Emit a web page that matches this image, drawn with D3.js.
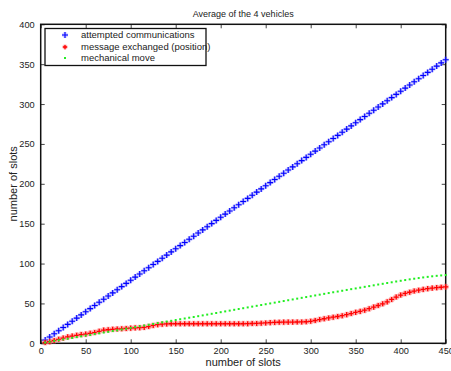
<!DOCTYPE html>
<html>
<head>
<meta charset="utf-8">
<script src="https://cdn.jsdelivr.net/npm/d3@7"></script>
<style>
  html, body { margin: 0; padding: 0; background: #fff; }
  svg { display: block; font-family: "Liberation Sans", Arial, Helvetica, sans-serif; }
</style>
</head>
<body>
<svg id="chart" width="451" height="371"></svg>
<script>
// Slot index of each sample (one every 5 slots)
const slots = d3.range(5, 451, 5);

// Attempted communications (average of the 4 vehicles)
const attempted = [
  4.0, 7.9, 11.9, 15.8, 19.8, 23.7, 27.7, 31.6, 35.6, 39.5,
  43.5, 47.4, 51.4, 55.3, 59.3, 63.2, 67.2, 71.1, 75.1, 79.0,
  83.0, 86.9, 90.9, 94.8, 98.8, 102.7, 106.7, 110.6, 114.6, 118.5,
  122.5, 126.4, 130.4, 134.3, 138.3, 142.2, 146.2, 150.1, 154.1, 158.0,
  162.0, 165.9, 169.9, 173.8, 177.8, 181.7, 185.7, 189.6, 193.6, 197.5,
  201.5, 205.4, 209.4, 213.3, 217.3, 221.2, 225.2, 229.1, 233.1, 237.0,
  241.0, 244.9, 248.9, 252.8, 256.8, 260.7, 264.7, 268.6, 272.6, 276.5,
  280.5, 284.4, 288.4, 292.3, 296.3, 300.2, 304.2, 308.1, 312.1, 316.0,
  320.0, 323.9, 327.9, 331.8, 335.8, 339.7, 343.7, 347.6, 351.6, 355.5
];

// Messages exchanged (position)
const exchanged = [
  1.0, 2.0, 3.5, 5.0, 6.5, 8.0, 9.0, 10.0, 11.0, 11.5,
  12.5, 13.5, 15.0, 16.5, 17.0, 17.5, 18.0, 18.2, 18.6, 19.0,
  19.4, 19.6, 20.0, 21.0, 22.4, 23.4, 24.0, 24.3, 24.5, 24.5,
  24.5, 24.5, 24.5, 24.5, 24.5, 24.5, 24.5, 24.5, 24.5, 24.5,
  24.5, 24.5, 24.5, 24.5, 24.5, 24.6, 24.8, 24.9, 25.2, 25.5,
  25.9, 26.2, 26.4, 26.5, 26.6, 26.6, 26.7, 26.8, 27.0, 27.6,
  28.6, 29.8, 30.8, 31.8, 32.7, 33.6, 34.6, 35.9, 37.3, 38.8,
  40.0, 41.5, 43.4, 45.4, 47.4, 49.5, 52.0, 55.0, 58.0, 60.5,
  62.5, 64.0, 65.5, 66.6, 67.6, 68.5, 69.2, 69.8, 70.3, 70.8
];

// Mechanical moves
const mechanical = [
  1.0, 2.0, 3.0, 3.9, 4.9, 5.8, 6.8, 7.8, 8.7, 9.7,
  10.6, 11.6, 12.5, 13.5, 14.4, 15.4, 16.3, 17.3, 18.3, 19.3,
  20.3, 21.3, 22.3, 23.3, 24.3, 25.3, 26.3, 27.3, 28.2, 29.2,
  30.2, 31.1, 32.1, 33.0, 34.0, 35.0, 36.0, 37.0, 38.0, 39.0,
  40.0, 41.0, 42.0, 43.0, 44.0, 45.0, 46.0, 47.0, 48.0, 49.0,
  50.0, 51.0, 52.0, 53.0, 54.0, 55.0, 56.0, 57.0, 58.0, 59.0,
  60.0, 61.0, 62.0, 63.0, 64.0, 64.9, 65.9, 66.9, 67.9, 68.8,
  69.8, 70.8, 71.7, 72.7, 73.7, 74.6, 75.6, 76.5, 77.5, 78.4,
  79.3, 80.2, 81.0, 81.8, 82.6, 83.3, 84.0, 84.6, 85.1, 85.6
];

const xTicks = [0, 50, 100, 150, 200, 250, 300, 350, 400, 450];
const yTicks = [0, 50, 100, 150, 200, 250, 300, 350, 400];

const legendLabels = [
  "attempted communications",
  "message exchanged (position)",
  "mechanical move"
];

const svg = d3.select("#chart");
const plot = { left: 40.7, right: 445.7, top: 24.3, bottom: 343.3 };

const x = d3.scaleLinear().domain([0, 450]).range([plot.left, plot.right]);
const y = d3.scaleLinear().domain([0, 400]).range([plot.bottom, plot.top]);

// Title and axis labels
svg.append("text")
  .attr("x", (plot.left + plot.right) / 2).attr("y", 17)
  .attr("text-anchor", "middle").attr("font-size", 9).attr("fill", "#222")
  .text("Average of the 4 vehicles");

svg.append("text")
  .attr("x", (plot.left + plot.right) / 2).attr("y", 365.5)
  .attr("text-anchor", "middle").attr("font-size", 11).attr("fill", "#222")
  .text("number of slots");

svg.append("text")
  .attr("transform", `translate(16.5,${(plot.top + plot.bottom) / 2}) rotate(-90)`)
  .attr("text-anchor", "middle").attr("font-size", 11).attr("fill", "#222")
  .text("number of slots");

// Axes: ticks point inward on all four sides
const tickLen = 4;
const axisStyle = g => {
  g.select(".domain").remove();
  g.selectAll(".tick line").attr("stroke", "#444").attr("stroke-width", 1);
  g.selectAll(".tick text").attr("fill", "#222").attr("font-size", 9.2);
};

svg.append("g")
  .attr("transform", `translate(0,${plot.bottom})`)
  .call(d3.axisBottom(x).tickValues(xTicks).tickSizeInner(-tickLen).tickSizeOuter(0).tickPadding(4.5))
  .call(axisStyle);

svg.append("g")
  .attr("transform", `translate(0,${plot.top})`)
  .call(d3.axisTop(x).tickValues(xTicks).tickSizeInner(-tickLen).tickSizeOuter(0).tickFormat(""))
  .call(axisStyle);

svg.append("g")
  .attr("transform", `translate(${plot.left},0)`)
  .call(d3.axisLeft(y).tickValues(yTicks).tickSizeInner(-tickLen).tickSizeOuter(0).tickPadding(6))
  .call(axisStyle);

svg.append("g")
  .attr("transform", `translate(${plot.right},0)`)
  .call(d3.axisRight(y).tickValues(yTicks).tickSizeInner(-tickLen).tickSizeOuter(0).tickFormat(""))
  .call(axisStyle);

// Axes box
svg.append("rect")
  .attr("x", plot.left).attr("y", plot.top)
  .attr("width", plot.right - plot.left).attr("height", plot.bottom - plot.top)
  .attr("fill", "none").attr("stroke", "#111").attr("stroke-width", 1.5);

// Marker shapes
const plusPath = s => `M${-s},0H${s}M0,${-s}V${s}`;
const starPath = s => {
  const d = s * 0.72;
  return `M${-s},0H${s}M0,${-s}V${s}M${-d},${-d}L${d},${d}M${-d},${d}L${d},${-d}`;
};

const marks = svg.append("g");

function drawPlus(g, px, py, s) {
  g.append("path").attr("transform", `translate(${px},${py})`)
    .attr("d", plusPath(s)).attr("stroke", "#8080ff").attr("stroke-opacity", 0.5)
    .attr("stroke-width", 2.8).attr("fill", "none");
  g.append("path").attr("transform", `translate(${px},${py})`)
    .attr("d", plusPath(s)).attr("stroke", "#0000ff").attr("stroke-width", 1.1).attr("fill", "none");
}

function drawStar(g, px, py, s) {
  g.append("path").attr("transform", `translate(${px},${py})`)
    .attr("d", starPath(s)).attr("stroke", "#ff8080").attr("stroke-opacity", 0.55)
    .attr("stroke-width", 3).attr("fill", "none");
  g.append("path").attr("transform", `translate(${px},${py})`)
    .attr("d", plusPath(s * 0.85)).attr("stroke", "#ff0000").attr("stroke-width", 1.3).attr("fill", "none");
}

function drawDot(g, px, py) {
  g.append("rect").attr("x", px - 1).attr("y", py - 1)
    .attr("width", 2).attr("height", 2).attr("fill", "#22ee22");
}

slots.forEach((s, i) => drawPlus(marks, x(s), y(attempted[i]), 3));
slots.forEach((s, i) => drawStar(marks, x(s), y(exchanged[i]), 3));
slots.forEach((s, i) => drawDot(marks, x(s), y(mechanical[i])));

// Legend
const lg = svg.append("g");
lg.append("rect")
  .attr("x", 45).attr("y", 28.5).attr("width", 161).attr("height", 37)
  .attr("fill", "#fff").attr("stroke", "#111").attr("stroke-width", 1.3);

const legendY = [35, 47, 58];
legendLabels.forEach((label, i) => {
  lg.append("text").attr("x", 81).attr("y", legendY[i] + 3.3)
    .attr("font-size", 9.5).attr("fill", "#222").text(label);
});
drawPlus(lg, 65, legendY[0], 3);
drawStar(lg, 65, legendY[1], 2.5);
drawDot(lg, 65, legendY[2]);
</script>
</body>
</html>
